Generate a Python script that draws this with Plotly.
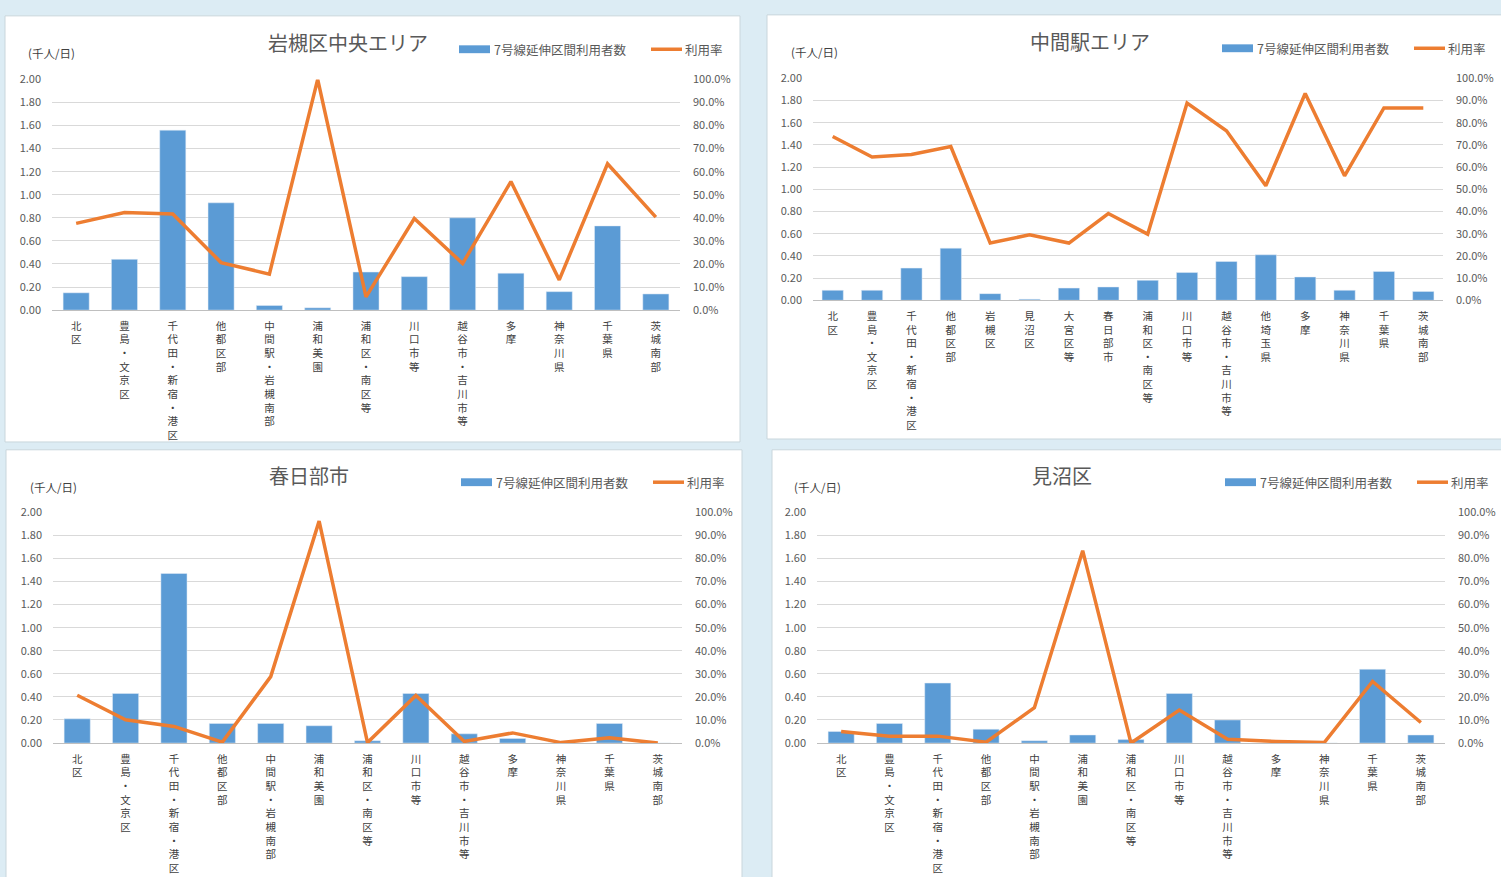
import plotly.graph_objects as go

W, H = 1501, 877

# ---- categories -------------------------------------------------------------
cats_a = ["北区", "豊島・文京区", "千代田・新宿・港区", "他都区部", "中間駅・岩槻南部",
          "浦和美園", "浦和区・南区等", "川口市等", "越谷市・吉川市等", "多摩",
          "神奈川県", "千葉県", "茨城南部"]

cats_b = ["北区", "豊島・文京区", "千代田・新宿・港区", "他都区部", "岩槻区", "見沼区",
          "大宮区等", "春日部市", "浦和区・南区等", "川口市等", "越谷市・吉川市等",
          "他埼玉県", "多摩", "神奈川県", "千葉県", "茨城南部"]

# ---- series (千人/日, 利用率) -----------------------------------------------------
iwatsuki_users = [0.15, 0.44, 1.56, 0.93, 0.04, 0.02, 0.33, 0.29, 0.80, 0.32, 0.16, 0.73, 0.14]
iwatsuki_rate = [0.376, 0.423, 0.417, 0.206, 0.156, 1.000, 0.057, 0.397, 0.202, 0.557, 0.131, 0.634, 0.403]

nakama_users = [0.09, 0.09, 0.29, 0.47, 0.06, 0.01, 0.11, 0.12, 0.18, 0.25, 0.35, 0.41, 0.21, 0.09, 0.26, 0.08]
nakama_rate = [0.738, 0.646, 0.657, 0.693, 0.258, 0.295, 0.258, 0.391, 0.298, 0.889, 0.764, 0.516, 0.932, 0.561, 0.867, 0.867]

kasukabe_users = [0.21, 0.43, 1.47, 0.17, 0.17, 0.15, 0.02, 0.43, 0.08, 0.04, 0.0, 0.17, 0.0]
kasukabe_rate = [0.207, 0.101, 0.072, 0.004, 0.288, 0.962, 0.002, 0.206, 0.007, 0.044, 0.002, 0.023, 0.0]

minuma_users = [0.10, 0.17, 0.52, 0.12, 0.02, 0.07, 0.03, 0.43, 0.20, 0.0, 0.0, 0.64, 0.07]
minuma_rate = [0.050, 0.030, 0.030, 0.004, 0.153, 0.834, 0.0, 0.143, 0.016, 0.007, 0.002, 0.267, 0.089]

titles = ["岩槻区中央エリア", "中間駅エリア", "春日部市", "見沼区"]
bar_name = "7号線延伸区間利用者数"
line_name = "利用率"
unit_label = "(千人/日)"

left_ticks = [i * 0.2 for i in range(11)]
right_ticks = [i * 0.1 for i in range(11)]

BAR = "#5b9bd5"
LINE = "#ed7d31"
GRID = "#d9d9d9"
TXT = "#595959"
BG = "#dcecf4"
FONT = "Noto Sans CJK JP"


def px_x(x):
    return x / W


def px_y(y):
    return 1 - y / H


def vertical(s):
    return "<br>".join(list(s))


# layout boxes in pixels
panels = [
    dict(title=titles[0], cats=cats_a, users=iwatsuki_users, rate=iwatsuki_rate,
         card=(5, 7, 740, 441), plot=(52, 71.7, 680, 306.7),
         title_xy=(348, 34), unit_xy=(51, 45), leg=(459, 41)),
    dict(title=titles[1], cats=cats_b, users=nakama_users, rate=nakama_rate,
         card=(767, 6, 1510, 438), plot=(813, 70.7, 1443, 296.7),
         title_xy=(1090, 33), unit_xy=(814, 44), leg=(1222, 40)),
    dict(title=titles[2], cats=cats_a, users=kasukabe_users, rate=kasukabe_rate,
         card=(6, 449, 742, 890), plot=(53, 512.7, 682, 747.7),
         title_xy=(309, 475), unit_xy=(53, 487), leg=(461, 482)),
    dict(title=titles[3], cats=cats_a, users=minuma_users, rate=minuma_rate,
         card=(772, 449, 1510, 890), plot=(817, 512.7, 1445, 747.7),
         title_xy=(1062, 475), unit_xy=(817, 487), leg=(1225, 482)),
]

fig = go.Figure()
shapes = []
annotations = []
layout_axes = {}

for k, p in enumerate(panels, start=1):
    xid = "x" if k == 1 else f"x{k}"
    yl = 2 * k - 1
    yr = 2 * k
    ylid = "y" if yl == 1 else f"y{yl}"
    yrid = f"y{yr}"
    n = len(p["cats"])

    fig.add_trace(go.Bar(x=list(range(n)), y=p["users"], marker_color=BAR,
                         name=bar_name, xaxis=xid, yaxis=ylid, showlegend=False,
                         hovertemplate="%{y:.2f}<extra></extra>"))
    fig.add_trace(go.Scatter(x=list(range(n)), y=p["rate"], mode="lines",
                             line=dict(color=LINE, width=3.5), name=line_name,
                             xaxis=xid, yaxis=yrid, showlegend=False,
                             hovertemplate="%{y:.1%}<extra></extra>"))

    x0, y0, x1, y1 = p["plot"]
    xdom = [px_x(x0), px_x(x1)]
    ydom = [px_y(y1), px_y(y0)]

    xkey = "xaxis" if k == 1 else f"xaxis{k}"
    ylkey = "yaxis" if yl == 1 else f"yaxis{yl}"
    yrkey = f"yaxis{yr}"

    layout_axes[xkey] = dict(
        domain=xdom, anchor=ylid, range=[-0.5, n - 0.5],
        tickmode="array", tickvals=list(range(n)),
        ticktext=[vertical(c) for c in p["cats"]], tickangle=0,
        tickfont=dict(size=10.5, color="#404040", family=FONT),
        showline=True, linecolor="#bfbfbf", linewidth=1,
        showgrid=False, zeroline=False, ticks="", ticklabelstandoff=6,
        fixedrange=True,
    )
    layout_axes[ylkey] = dict(
        domain=ydom, anchor=xid, range=[0, 2.0],
        tickmode="array", tickvals=left_ticks, tickformat=".2f",
        tickfont=dict(size=11, color=TXT, family=FONT),
        showgrid=True, gridcolor=GRID, gridwidth=1,
        zeroline=False, showline=False, ticks="", ticklabelstandoff=10,
        fixedrange=True,
    )
    layout_axes[yrkey] = dict(
        domain=ydom, anchor=xid, overlaying=ylid, side="right", range=[0, 1.0],
        tickmode="array", tickvals=right_ticks, tickformat=".1%",
        tickfont=dict(size=11, color=TXT, family=FONT),
        showgrid=False, zeroline=False, showline=False, ticks="",
        ticklabelstandoff=12, fixedrange=True,
    )

    # white card behind each chart
    cx0, cy0, cx1, cy1 = p["card"]
    shapes.append(dict(type="rect", xref="paper", yref="paper", layer="below",
                       x0=px_x(cx0), x1=px_x(cx1), y0=px_y(cy1), y1=px_y(cy0),
                       fillcolor="white", line=dict(color="#c9d6dc", width=1)))

    # chart title
    tx, ty = p["title_xy"]
    annotations.append(dict(xref="paper", yref="paper", x=px_x(tx), y=px_y(ty),
                            text=p["title"], showarrow=False, xanchor="center",
                            yanchor="middle",
                            font=dict(size=20, color=TXT, family=FONT)))
    # unit label
    ux, uy = p["unit_xy"]
    annotations.append(dict(xref="paper", yref="paper", x=px_x(ux), y=px_y(uy),
                            text=unit_label, showarrow=False, xanchor="center",
                            yanchor="middle",
                            font=dict(size=11.5, color="#404040", family=FONT)))

    # legend keys
    lx, ly = p["leg"]
    shapes.append(dict(type="rect", xref="paper", yref="paper",
                       x0=px_x(lx), x1=px_x(lx + 31), y0=px_y(ly + 4), y1=px_y(ly - 4),
                       fillcolor=BAR, line=dict(width=0)))
    annotations.append(dict(xref="paper", yref="paper", x=px_x(lx + 33), y=px_y(ly),
                            text=bar_name, showarrow=False, xanchor="left",
                            yanchor="middle",
                            font=dict(size=12.5, color=TXT, family=FONT)))
    shapes.append(dict(type="line", xref="paper", yref="paper",
                       x0=px_x(lx + 192), x1=px_x(lx + 223), y0=px_y(ly), y1=px_y(ly),
                       line=dict(color=LINE, width=3.5)))
    annotations.append(dict(xref="paper", yref="paper", x=px_x(lx + 224), y=px_y(ly),
                            text=line_name, showarrow=False, xanchor="left",
                            yanchor="middle",
                            font=dict(size=12.5, color=TXT, family=FONT)))

fig.update_layout(
    width=W, height=H, autosize=False,
    margin=dict(l=0, r=0, t=0, b=0),
    paper_bgcolor=BG, plot_bgcolor="rgba(0,0,0,0)",
    bargap=0.46,
    showlegend=False,
    font=dict(family=FONT, color=TXT),
    shapes=shapes, annotations=annotations,
    **layout_axes,
)

fig.write_html("out.html", config={"displayModeBar": False})
